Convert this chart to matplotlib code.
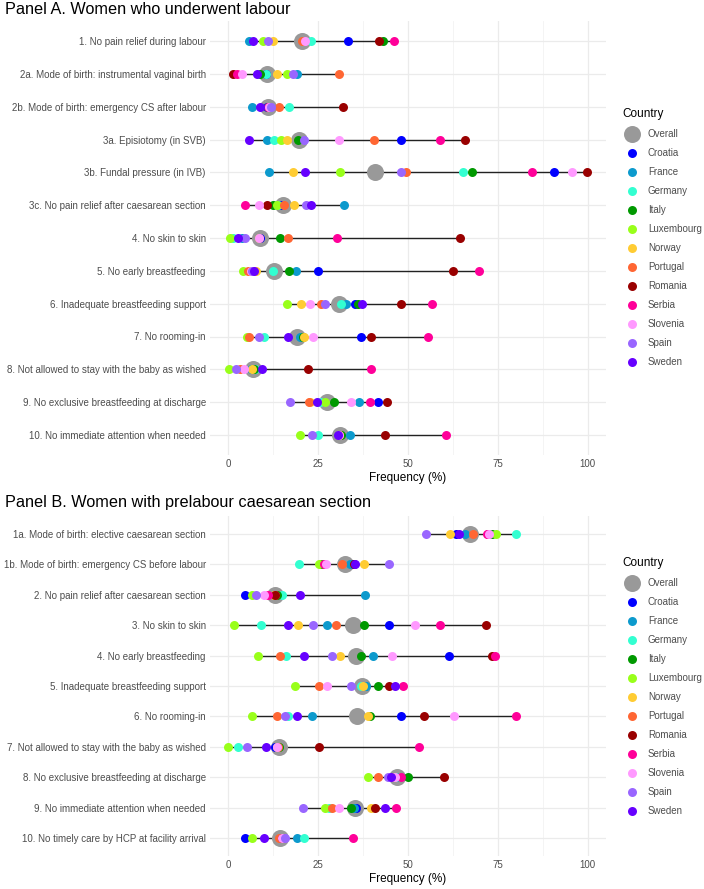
import numpy as np
import matplotlib
matplotlib.use("Agg")
import matplotlib.pyplot as plt

plt.rcParams['font.family'] = ['Liberation Sans', 'DejaVu Sans']

countries = ["Croatia", "France", "Germany", "Italy", "Luxembourg", "Norway",
             "Portugal", "Romania", "Serbia", "Slovenia", "Spain", "Sweden"]
colors = {"Croatia": "#0000FF", "France": "#0C9ACD", "Germany": "#33FFD1",
          "Italy": "#009900", "Luxembourg": "#99FF1A", "Norway": "#FFCC33",
          "Portugal": "#FF6633", "Romania": "#990000", "Serbia": "#FF0099",
          "Slovenia": "#FF99FF", "Spain": "#9966FF", "Sweden": "#6600FF"}
overall_color = "#999999"

# ---------------- Panel A data ----------------
cats_a = ["1. No pain relief during labour",
          "2a. Mode of birth: instrumental vaginal birth",
          "2b. Mode of birth: emergency CS after labour",
          "3a. Episiotomy (in SVB)",
          "3b. Fundal pressure (in IVB)",
          "3c. No pain relief after caesarean section",
          "4. No skin to skin",
          "5. No early breastfeeding",
          "6. Inadequate breastfeeding support",
          "7. No rooming-in",
          "8. Not allowed to stay with the baby as wished",
          "9. No exclusive breastfeeding at discharge",
          "10. No immediate attention when needed"]
overall_a = [20.6, 10.8, 11.2, 19.8, 41.0, 15.3, 8.9, 12.9, 30.9, 19.3, 6.9, 27.6, 31.2]
croatia_a = [33.3, 10.5, 10.8, 48.0, 90.7, 14.5, 8.8, 25.0, 35.3, 37.1, 7.0, 41.8, 31.0]
france_a = [5.9, 19.3, 6.7, 10.8, 11.4, 32.2, 4.0, 19.0, 32.7, 20.0, 6.5, 36.5, 34.0]
germany_a = [23.0, 10.5, 17.0, 12.9, 65.4, 14.0, 1.5, 12.5, 31.5, 10.0, 7.5, 25.6, 24.9]
italy_a = [43.2, 8.9, 11.0, 19.4, 67.8, 12.6, 14.5, 17.0, 36.2, 21.0, 7.1, 29.6, 31.5]
luxembourg_a = [9.8, 16.5, 11.3, 14.7, 31.2, 13.7, 0.6, 4.3, 16.4, 5.2, 0.2, 27.0, 20.0]
norway_a = [12.6, 13.5, 11.5, 16.5, 18.0, 18.4, 8.5, 7.9, 20.4, 21.2, 6.8, 22.8, 31.0]
portugal_a = [20.5, 30.8, 14.3, 40.5, 49.4, 15.5, 16.7, 5.7, 25.8, 5.8, 3.3, 22.4, 31.0]
romania_a = [42.1, 1.3, 32.0, 66.0, 99.8, 10.9, 64.4, 62.7, 48.1, 39.9, 22.2, 44.1, 43.6]
serbia_a = [46.1, 2.6, 11.0, 59.1, 84.5, 4.7, 30.4, 69.8, 56.8, 55.6, 39.7, 39.4, 60.6]
slovenia_a = [21.5, 3.9, 11.5, 30.9, 95.8, 8.6, 8.7, 6.5, 22.8, 23.6, 4.5, 34.2, 31.0]
spain_a = [11.0, 18.0, 11.9, 21.2, 48.1, 21.6, 4.6, 6.8, 27.1, 8.7, 2.2, 17.3, 23.3]
sweden_a = [7.0, 8.0, 8.9, 5.9, 21.3, 23.1, 2.9, 7.3, 37.2, 16.7, 9.6, 24.8, 30.7]

# ---------------- Panel B data ----------------
cats_b = ["1a. Mode of birth: elective caesarean section",
          "1b. Mode of birth: emergency CS before labour",
          "2. No pain relief after caesarean section",
          "3. No skin to skin",
          "4. No early breastfeeding",
          "5. Inadequate breastfeeding support",
          "6. No rooming-in",
          "7. Not allowed to stay with the baby as wished",
          "8. No exclusive breastfeeding at discharge",
          "9. No immediate attention when needed",
          "10. No timely care by HCP at facility arrival"]
overall_b = [67.2, 32.5, 13.2, 34.9, 35.5, 37.2, 35.8, 14.1, 46.9, 35.4, 14.5]
croatia_b = [63.5, 34.9, 4.8, 44.9, 61.5, 38.0, 48.2, 13.1, 46.5, 35.5, 4.8]
france_b = [66.0, 33.8, 38.1, 27.6, 40.3, 38.4, 23.3, 13.5, 46.8, 35.0, 19.1]
germany_b = [80.1, 19.7, 15.0, 9.1, 16.0, 36.9, 16.8, 2.9, 46.5, 28.0, 21.2]
italy_b = [73.5, 26.0, 13.5, 37.9, 37.1, 41.7, 39.6, 14.3, 50.2, 34.1, 15.0]
luxembourg_b = [74.6, 25.2, 6.6, 1.6, 8.4, 18.6, 6.7, 0.0, 39.0, 27.1, 6.8]
norway_b = [61.8, 37.9, 12.9, 19.5, 31.2, 37.5, 38.9, 13.5, 46.0, 39.8, 14.5]
portugal_b = [68.1, 31.6, 13.0, 30.0, 14.4, 25.4, 13.6, 13.8, 41.7, 29.0, 14.3]
romania_b = [72.3, 35.0, 13.0, 71.7, 73.4, 44.7, 54.5, 25.3, 60.1, 40.8, 15.0]
serbia_b = [72.0, 26.7, 11.2, 59.0, 74.2, 48.6, 80.1, 53.2, 48.0, 46.7, 34.8]
slovenia_b = [72.7, 27.3, 9.9, 51.9, 45.6, 27.5, 62.9, 13.7, 46.5, 31.0, 15.0]
spain_b = [55.2, 44.7, 7.7, 23.7, 28.8, 34.1, 15.8, 5.2, 44.4, 21.0, 15.8]
sweden_b = [64.2, 35.3, 20.1, 16.8, 21.1, 46.4, 19.2, 10.5, 45.4, 43.7, 10.0]

vals_a = dict(zip(countries, [croatia_a, france_a, germany_a, italy_a, luxembourg_a, norway_a,
                              portugal_a, romania_a, serbia_a, slovenia_a, spain_a, sweden_a]))
vals_b = dict(zip(countries, [croatia_b, france_b, germany_b, italy_b, luxembourg_b, norway_b,
                              portugal_b, romania_b, serbia_b, slovenia_b, spain_b, sweden_b]))

W, H = 704, 889
fig = plt.figure(figsize=(W / 100, H / 100), dpi=100)

S_SMALL = 42
S_BIG = 150
GRID = "#EBEBEB"
TXT = "#4D4D4D"


def px_axes(left, top, right, bottom):
    return fig.add_axes([left / W, 1 - bottom / H, (right - left) / W, (bottom - top) / H])


def draw_panel(ax, cats, overall, vals):
    n = len(cats)
    ypos = np.arange(n)[::-1]
    allv = np.array([overall] + [vals[c] for c in countries], dtype=float)
    lo = np.nanmin(allv, axis=0)
    hi = np.nanmax(allv, axis=0)
    ax.hlines(ypos, lo, hi, color="#222222", lw=1.0, zorder=2)
    ax.scatter(overall, ypos, s=S_BIG, color=overall_color, zorder=3, linewidths=0)
    for c in countries:
        ax.scatter(vals[c], ypos, s=S_SMALL, color=colors[c], zorder=4, linewidths=0)
    ax.set_xlim(-5, 105)
    ax.set_ylim(-0.6, n - 1 + 0.6)
    ax.set_yticks(ypos)
    ax.set_yticklabels(cats)
    ax.set_xticks([0, 25, 50, 75, 100])
    ax.set_xticks([12.5, 37.5, 62.5, 87.5], minor=True)
    ax.grid(True, which="major", color=GRID, lw=0.9, zorder=0)
    ax.grid(True, which="minor", axis="x", color="#F3F3F3", lw=0.6, zorder=0)
    ax.set_axisbelow(True)
    for s in ax.spines.values():
        s.set_visible(False)
    ax.tick_params(axis="both", which="both", length=0, labelsize=7, labelcolor=TXT, pad=3)
    ax.set_xlabel("Frequency (%)", fontsize=8.5, color="black", labelpad=2)


axA = px_axes(210, 21.3, 605.5, 454.7)
draw_panel(axA, cats_a, overall_a, vals_a)
axB = px_axes(210, 515.8, 605.5, 856.2)
draw_panel(axB, cats_b, overall_b, vals_b)

fig.text(5 / W, 1 - 9 / H, "Panel A. Women who underwent labour", fontsize=11.7,
         ha="left", va="center", color="black")
fig.text(5 / W, 1 - 503 / H, "Panel B. Women with prelabour caesarean section", fontsize=11.7,
         ha="left", va="center", color="black")

# legends
overlay = fig.add_axes([0, 0, 1, 1], facecolor="none")
overlay.set_xlim(0, W)
overlay.set_ylim(H, 0)
overlay.axis("off")


def draw_legend(y_title):
    overlay.text(622, y_title, "Country", fontsize=8.5, ha="left", va="center", color="black")
    labels = ["Overall"] + countries
    cols = [overall_color] + [colors[c] for c in countries]
    sizes = [S_BIG] + [S_SMALL] * len(countries)
    for i, (lab, col, sz) in enumerate(zip(labels, cols, sizes)):
        y = y_title + 20 + i * 19
        overlay.scatter([632], [y], s=sz, color=col, linewidths=0)
        overlay.text(648, y, lab, fontsize=7, ha="left", va="center", color=TXT)


draw_legend(114)
draw_legend(563)

fig.savefig("out.png", dpi=100)
